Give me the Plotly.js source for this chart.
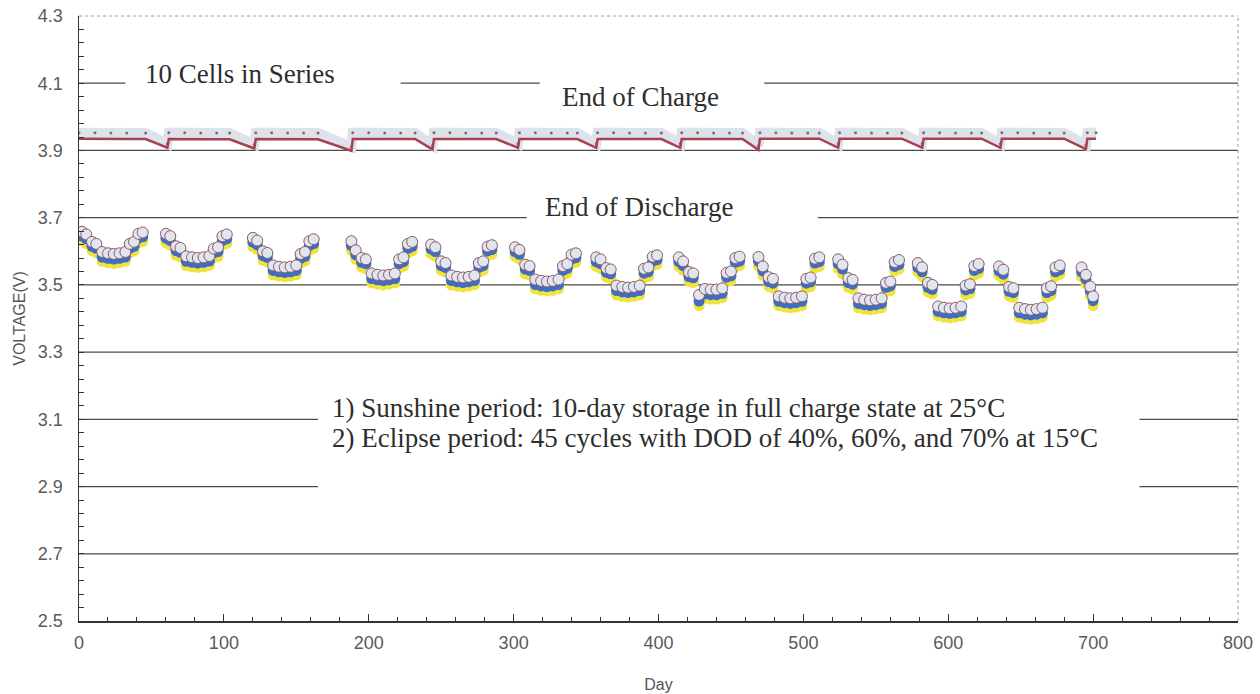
<!DOCTYPE html>
<html>
<head>
<meta charset="utf-8">
<script src="https://cdn.plot.ly/plotly-3.0.1.min.js"></script>
<style>html,body{margin:0;padding:0;background:#fff;}#chart{width:1260px;height:694px;}</style>
</head>
<body>
<div id="chart"></div>
<script>
// ---------- End-of-discharge data (10 cells: max / mean / min cell voltage) ----------
const dischargeDay = [
  2,5,9,12,16,20,24,28,32,35,38,41,44,
  60,63,67,70,74,78,82,86,90,93,96,99,102,
  120,123,127,130,134,138,142,146,150,153,156,159,162,
  188,191,195,198,202,206,210,214,218,221,224,227,230,
  243,246,250,253,257,261,265,269,273,276,279,282,285,
  301,304,308,311,315,319,323,327,331,334,337,340,343,
  357,360,364,367,371,375,379,383,387,390,393,396,399,
  414,417,421,424,428,432,436,440,444,447,450,453,456,
  469,472,476,479,483,487,491,495,499,502,505,508,511,
  524,527,531,534,538,542,546,550,554,557,560,563,566,
  579,582,586,589,593,597,601,605,609,612,615,618,621,
  635,638,642,645,649,653,657,661,665,668,671,674,677,
  692,695,698,700
];
const dischargeMax = [
  3.658,3.650,3.628,3.622,3.598,3.594,3.592,3.594,3.598,3.622,3.628,3.652,3.656,
  3.652,3.645,3.615,3.610,3.585,3.582,3.580,3.582,3.586,3.608,3.612,3.645,3.650,
  3.640,3.632,3.600,3.595,3.558,3.554,3.552,3.554,3.558,3.592,3.598,3.630,3.636,
  3.630,3.603,3.580,3.576,3.534,3.530,3.528,3.530,3.534,3.576,3.582,3.622,3.628,
  3.620,3.612,3.570,3.565,3.528,3.524,3.522,3.524,3.528,3.565,3.570,3.614,3.618,
  3.612,3.604,3.560,3.556,3.516,3.512,3.510,3.512,3.516,3.556,3.562,3.590,3.594,
  3.582,3.576,3.550,3.546,3.498,3.494,3.492,3.494,3.498,3.548,3.552,3.584,3.588,
  3.582,3.570,3.538,3.534,3.470,3.488,3.486,3.486,3.490,3.536,3.540,3.580,3.584,
  3.583,3.555,3.523,3.518,3.466,3.462,3.460,3.462,3.466,3.518,3.522,3.578,3.582,
  3.576,3.560,3.520,3.515,3.460,3.456,3.454,3.456,3.460,3.506,3.510,3.568,3.574,
  3.565,3.552,3.506,3.500,3.436,3.432,3.430,3.432,3.436,3.498,3.502,3.556,3.562,
  3.555,3.545,3.494,3.490,3.432,3.428,3.426,3.428,3.432,3.490,3.496,3.552,3.558,
  3.552,3.530,3.495,3.466
];
const dischargeMean = [
  3.645,3.637,3.615,3.609,3.583,3.579,3.577,3.579,3.583,3.609,3.615,3.639,3.643,
  3.639,3.632,3.602,3.597,3.570,3.567,3.565,3.567,3.571,3.595,3.599,3.632,3.637,
  3.627,3.619,3.587,3.582,3.543,3.539,3.537,3.539,3.543,3.579,3.585,3.617,3.623,
  3.617,3.590,3.567,3.563,3.519,3.515,3.513,3.515,3.519,3.563,3.569,3.609,3.615,
  3.607,3.599,3.557,3.552,3.513,3.509,3.507,3.509,3.513,3.552,3.557,3.601,3.605,
  3.599,3.591,3.547,3.543,3.501,3.497,3.495,3.497,3.501,3.543,3.549,3.577,3.581,
  3.569,3.563,3.537,3.533,3.483,3.479,3.477,3.479,3.483,3.535,3.539,3.571,3.575,
  3.569,3.557,3.525,3.521,3.452,3.473,3.471,3.471,3.475,3.523,3.527,3.567,3.571,
  3.570,3.542,3.510,3.505,3.451,3.447,3.445,3.447,3.451,3.505,3.509,3.565,3.569,
  3.563,3.547,3.507,3.502,3.445,3.441,3.439,3.441,3.445,3.493,3.497,3.555,3.561,
  3.552,3.539,3.493,3.487,3.421,3.417,3.415,3.417,3.421,3.485,3.489,3.543,3.549,
  3.542,3.532,3.481,3.477,3.417,3.413,3.411,3.413,3.417,3.477,3.483,3.539,3.545,
  3.539,3.517,3.482,3.453
];
const dischargeMin = [
  3.631,3.623,3.601,3.595,3.570,3.566,3.564,3.566,3.570,3.595,3.601,3.625,3.629,
  3.625,3.618,3.588,3.583,3.557,3.554,3.552,3.554,3.558,3.581,3.585,3.618,3.623,
  3.613,3.605,3.573,3.568,3.530,3.526,3.524,3.526,3.530,3.565,3.571,3.603,3.609,
  3.603,3.576,3.553,3.549,3.506,3.502,3.500,3.502,3.506,3.549,3.555,3.595,3.601,
  3.593,3.585,3.543,3.538,3.500,3.496,3.494,3.496,3.500,3.538,3.543,3.587,3.591,
  3.585,3.577,3.533,3.529,3.488,3.484,3.482,3.484,3.488,3.529,3.535,3.563,3.567,
  3.555,3.549,3.523,3.519,3.470,3.466,3.464,3.466,3.470,3.521,3.525,3.557,3.561,
  3.555,3.543,3.511,3.507,3.438,3.460,3.458,3.458,3.462,3.509,3.513,3.553,3.557,
  3.556,3.528,3.496,3.491,3.438,3.434,3.432,3.434,3.438,3.491,3.495,3.551,3.555,
  3.549,3.533,3.493,3.488,3.432,3.428,3.426,3.428,3.432,3.479,3.483,3.541,3.547,
  3.538,3.525,3.479,3.473,3.408,3.404,3.402,3.404,3.408,3.471,3.475,3.529,3.535,
  3.528,3.518,3.467,3.463,3.404,3.400,3.398,3.400,3.404,3.463,3.469,3.525,3.531,
  3.525,3.503,3.468,3.439
];

// ---------- End-of-charge data (incl. 10-day storage decay) ----------
const chargeDay = [
  0,11,22,33,46,61,
  62,73,84,95,104,121,
  122,133,144,155,165,188,
  189,200,211,222,232,244,
  245,256,267,278,288,303,
  304,315,326,337,344,357,
  358,369,380,391,402,415,
  416,427,438,449,458,469,
  470,481,492,503,511,524,
  525,536,547,558,568,582,
  583,594,605,616,623,636,
  637,648,659,670,680,695,
  696,702
];
const chargeUpper = [
  3.953,3.953,3.952,3.952,3.952,3.920,
  3.953,3.953,3.952,3.952,3.952,3.918,
  3.953,3.953,3.952,3.952,3.952,3.911,
  3.953,3.953,3.952,3.952,3.952,3.915,
  3.953,3.953,3.952,3.952,3.952,3.920,
  3.953,3.953,3.952,3.952,3.952,3.920,
  3.953,3.953,3.952,3.952,3.952,3.920,
  3.953,3.953,3.952,3.952,3.952,3.914,
  3.953,3.953,3.952,3.952,3.952,3.920,
  3.953,3.953,3.952,3.952,3.952,3.920,
  3.953,3.953,3.952,3.952,3.952,3.920,
  3.953,3.953,3.952,3.952,3.952,3.916,
  3.953,3.953
];
const chargeLower = [
  3.935,3.934,3.934,3.934,3.934,3.908,
  3.934,3.933,3.933,3.933,3.933,3.906,
  3.934,3.934,3.933,3.933,3.933,3.899,
  3.934,3.934,3.934,3.934,3.934,3.903,
  3.934,3.934,3.934,3.934,3.934,3.908,
  3.934,3.934,3.934,3.934,3.934,3.908,
  3.934,3.934,3.934,3.934,3.934,3.908,
  3.934,3.934,3.934,3.934,3.934,3.902,
  3.935,3.935,3.935,3.935,3.935,3.908,
  3.935,3.935,3.935,3.935,3.935,3.908,
  3.935,3.935,3.935,3.935,3.935,3.908,
  3.935,3.935,3.935,3.935,3.935,3.904,
  3.935,3.935
];

// ---------- Axis ticks ----------
const yTickVals = [2.5,2.7,2.9,3.1,3.3,3.5,3.7,3.9,4.1,4.3];
const yTickText = ['2.5','2.7','2.9','3.1','3.3','3.5','3.7','3.9','4.1','4.3'];
const xTickVals = [0,100,200,300,400,500,600,700,800];
const xTickText = ['0','100','200','300','400','500','600','700','800'];

// ---------- Horizontal reference lines (interrupted by labels) ----------
const gridLevels = [4.1, 3.9, 3.7, 3.5, 3.3, 3.1, 2.9, 2.7];
const gridSpans = [
  [[0,32],[222,318],[473,800]],
  [[0,800]],
  [[0,309],[510,800]],
  [[0,800]],
  [[0,800]],
  [[0,165],[732,800]],
  [[0,165],[732,800]],
  [[0,800]]
];

// ---------- Text labels ----------
const labelTexts = ['10 Cells in Series','End of Charge','End of Discharge',
  '1) Sunshine period: 10-day storage in full charge state at 25°C',
  '2) Eclipse period: 45 cycles with DOD of 40%, 60%, and 70% at 15°C'];
const labelX = [44, 332, 320, 173, 173];
const labelY = [4.128, 4.058, 3.733, 3.134, 3.045];

const shapes = [];
gridLevels.forEach((lv, i) => {
  gridSpans[i].forEach(sp => {
    shapes.push({type:'line', xref:'x', yref:'y', x0:sp[0], x1:sp[1], y0:lv, y1:lv,
      line:{color:'#4a4a4a', width:1.3}, layer:'below'});
  });
});
shapes.push({type:'line', xref:'paper', yref:'paper', x0:0, x1:1, y0:1, y1:1,
  line:{color:'#9a9a9a', width:1, dash:'dot'}});
shapes.push({type:'line', xref:'paper', yref:'paper', x0:1, x1:1, y0:0, y1:1,
  line:{color:'#9a9a9a', width:1, dash:'dot'}});

const annotations = labelTexts.map((t, i) => ({
  text: t, x: labelX[i], y: labelY[i], xref:'x', yref:'y',
  xanchor:'left', yanchor:'middle', showarrow:false,
  font:{family:'Liberation Serif, Times New Roman, serif', size:27, color:'#2e2e2e'}
}));

const tickFont = {family:'Liberation Sans Narrow, Arial Narrow, Liberation Sans, Arial, sans-serif', size:18, color:'#5a5a5a'};

const traces = [
  {x: chargeDay, y: chargeUpper, type:'scatter', mode:'lines+markers', name:'EOC max',
   line:{color:'#dde3ea', width:10}, marker:{size:3, color:'#8c6870'}, hoverinfo:'skip'},
  {x: chargeDay, y: chargeLower, type:'scatter', mode:'lines', name:'EOC min',
   line:{color:'#a8404f', width:2.5}, hoverinfo:'skip'},
  {x: dischargeDay, y: dischargeMin, type:'scatter', mode:'markers', name:'EOD min',
   marker:{size:11, color:'#f1e23c', line:{width:0}}},
  {x: dischargeDay, y: dischargeMean, type:'scatter', mode:'markers', name:'EOD mean',
   marker:{size:11, color:'#3c6ec6', line:{width:0}}},
  {x: dischargeDay, y: dischargeMax, type:'scatter', mode:'markers', name:'EOD max',
   marker:{size:11, color:'#dfe6ee', line:{color:'#8f5868', width:1}}}
];

const layout = {
  width:1260, height:694,
  margin:{l:79, r:22, t:16, b:73},
  paper_bgcolor:'#ffffff', plot_bgcolor:'#ffffff',
  showlegend:false,
  xaxis:{
    range:[0,800], tickvals:xTickVals, ticktext:xTickText,
    ticks:'inside', ticklen:7, tickwidth:1, tickcolor:'#333',
    minor:{dtick:20, tick0:0, ticks:'inside', ticklen:4, tickcolor:'#333', showgrid:false},
    showgrid:false, zeroline:false, showline:true, linecolor:'#333', linewidth:1.5,
    tickfont:tickFont, ticklabelstandoff:5,
    title:{text:'Day', font:{family:tickFont.family, size:16, color:'#555'}, standoff:26}
  },
  yaxis:{
    range:[2.5,4.3], tickvals:yTickVals, ticktext:yTickText,
    ticks:'inside', ticklen:5, tickwidth:1, tickcolor:'#333',
    minor:{dtick:0.04, tick0:2.5, ticks:'inside', ticklen:5, tickcolor:'#333', showgrid:false},
    showgrid:false, zeroline:false, showline:true, linecolor:'#333', linewidth:1.5,
    tickfont:tickFont, ticklabelstandoff:11,
    title:{text:'VOLTAGE(V)', font:{family:tickFont.family, size:16, color:'#555'}, standoff:8}
  },
  shapes: shapes,
  annotations: annotations
};

Plotly.newPlot('chart', traces, layout, {staticPlot:true, displayModeBar:false});
</script>
</body>
</html>
